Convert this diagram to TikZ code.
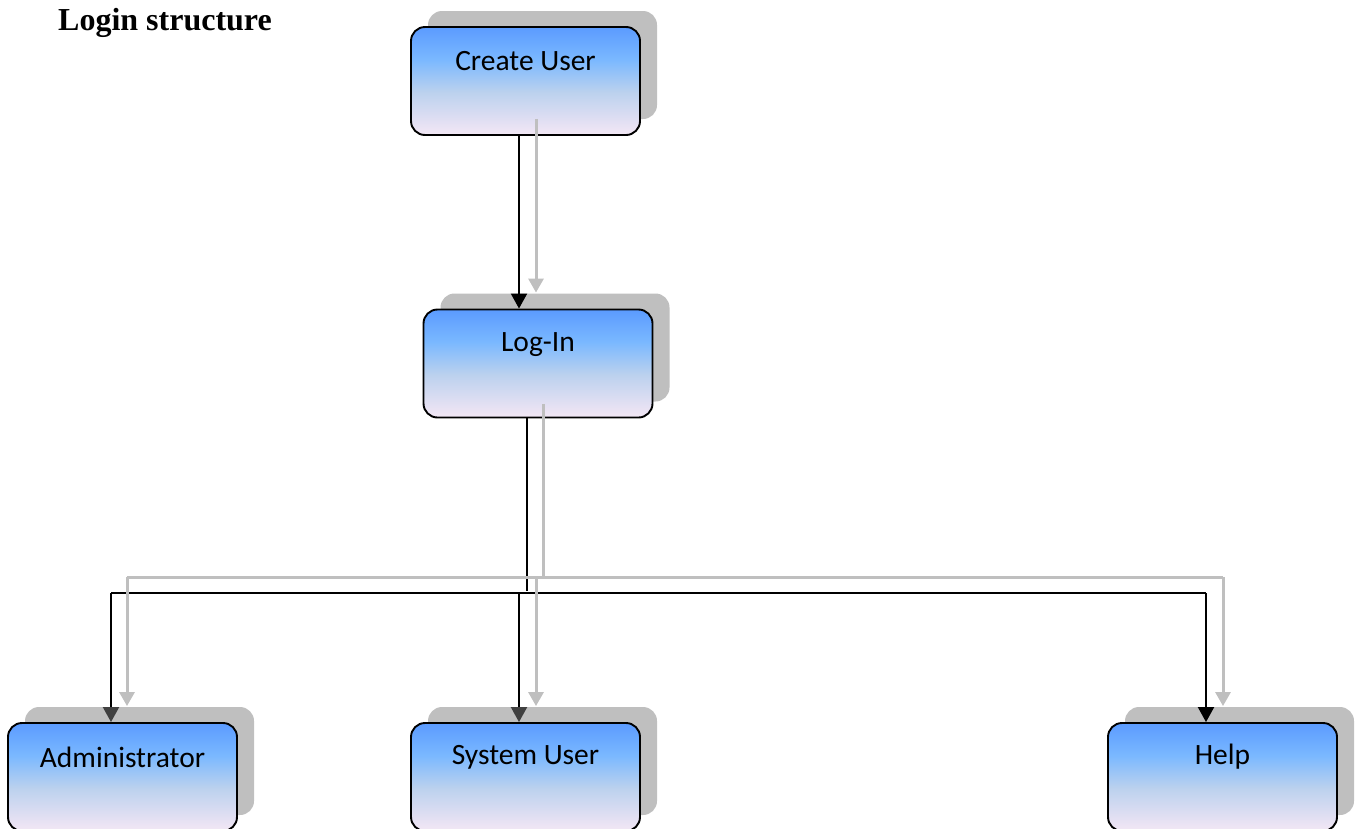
\documentclass[tikz,border=0pt]{standalone}
\usepackage{fontspec}
\setmainfont{Liberation Serif}
\newfontfamily\boxfont{Carlito}
\usetikzlibrary{arrows.meta,shadows,calc}
\definecolor{topA}{HTML}{5B9BFF}
\definecolor{midA}{HTML}{7AB8FF}
\definecolor{midB}{HTML}{BBD1EE}
\definecolor{lavB}{HTML}{E6E1F3}
\definecolor{lavA}{HTML}{F3E8F5}
\definecolor{shadowgray}{HTML}{BFBFBF}
\definecolor{linegray}{HTML}{BFBFBF}
\definecolor{arrowdark}{HTML}{404040}
\pgfdeclareverticalshading{boxshade}{100bp}{color(0bp)=(lavA); color(25bp)=(lavA); color(30bp)=(lavB); color(45bp)=(midB); color(60bp)=(midA); color(75bp)=(topA); color(100bp)=(topA)}
\tikzset{
  flowbox/.style={draw=black, line width=1.9pt, rounded corners=14pt,
    minimum width=229pt, minimum height=108pt, inner sep=0pt,
    shading=boxshade,
    general shadow={fill=shadowgray, shadow xshift=17pt, shadow yshift=16pt}},
  boxlabel/.style={font=\boxfont\fontsize{29.5}{35}\selectfont, inner sep=0pt, anchor=center},
  blk/.style={draw=black, line width=2pt},
  gry/.style={draw=linegray, line width=3pt},
  btip/.style={-{Triangle[length=15pt,width=16pt]}},
  dtip/.style={-{Triangle[length=15pt,width=16pt,color=arrowdark,fill=arrowdark]}},
  gtip/.style={-{Triangle[length=14pt,width=15pt,color=linegray,fill=linegray]}},
}
\begin{document}
\begin{tikzpicture}[x=1pt,y=-1pt]
\useasboundingbox (0,0) rectangle (1357,828);
\clip (0,0) rectangle (1357,828);

\node[font=\bfseries\fontsize{32}{36}\selectfont, anchor=base west, inner sep=0pt] (title) at (58,30) {Login structure};

\node[flowbox] (cu) at (525.5,81) {};
\node[boxlabel] (cuT) at ([yshift=-35pt]cu.north) {Create User};
\node[flowbox] (li) at (538,363.5) {};
\node[boxlabel] (liT) at ([yshift=-36pt]li.north) {Log-In};
\node[flowbox] (ad) at (122.5,777) {};
\node[boxlabel] (adT) at ([yshift=-35pt]ad.north) {Administrator};
\node[flowbox] (su) at (525.5,777) {};
\node[boxlabel] (suT) at ([yshift=-35pt]su.north) {System User};
\node[flowbox] (hp) at (1222.5,777) {};
\node[boxlabel] (hpT) at ([yshift=-35pt]hp.north) {Help};

% Create User -> Log-In
\draw[blk,btip] ([xshift=-6.5pt]cu.south) -- ([xshift=-6.5pt]cu.south |- li.north);
\coordinate (cuG) at ([xshift=10.5pt,yshift=17pt]cu.south);
\coordinate (liShTop) at ([yshift=16pt]li.north);
\draw[gry,gtip] (cuG) -- (cuG |- liShTop);

% bus coordinates
\coordinate (bR) at ([xshift=-16.5pt]hp.north |- 0,593);
\coordinate (gR) at ([xshift=0.5pt]hp.north |- 0,577);
\coordinate (bL) at ([xshift=-11.5pt]ad.north |- bR);
\coordinate (gL) at ([xshift=4.5pt]ad.north |- gR);
\coordinate (liB) at ([xshift=-11pt]li.south);
\coordinate (liG) at ([xshift=5pt,yshift=14.5pt]li.south);

% Log-In down
\draw[blk] (liB) -- (liB |- 0,591);
\draw[gry] (liG) -- (liG |- gR);

% black bus
\draw[blk] (bL) -- (bR);
\draw[blk,dtip] (bL) -- ([xshift=-11.5pt]ad.north);
\draw[blk,btip] (bR) -- ([xshift=-16.5pt]hp.north);
\draw[blk,dtip] ([xshift=-6.5pt]su.north |- bR) -- ([xshift=-6.5pt]su.north);

% gray bus
\draw[gry] (gL) -- (gR);
\draw[gry,gtip] (gL) -- ([xshift=4.5pt,yshift=16pt]ad.north);
\draw[gry,gtip] (gR) -- ([xshift=0.5pt,yshift=16pt]hp.north);
\draw[gry,gtip] ([xshift=10.5pt]su.north |- gR) -- ([xshift=10.5pt,yshift=16pt]su.north);
\end{tikzpicture}
\end{document}
